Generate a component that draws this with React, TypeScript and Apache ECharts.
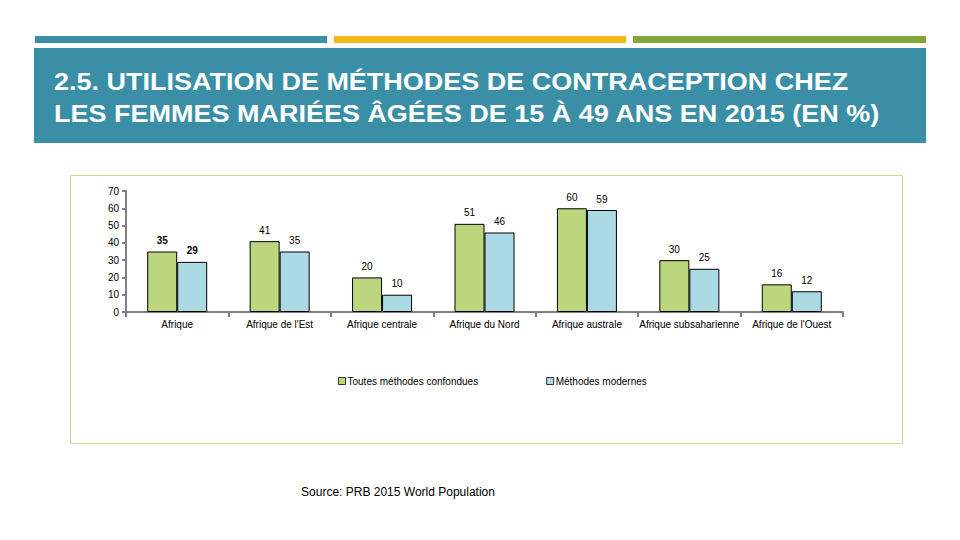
import React, { useEffect, useRef } from "react";
import * as echarts from "echarts";

const categories = [
  "Afrique",
  "Afrique de l'Est",
  "Afrique centrale",
  "Afrique du Nord",
  "Afrique australe",
  "Afrique subsaharienne",
  "Afrique de l'Ouest",
];
const allMethods = [35, 41, 20, 51, 60, 30, 16];
const modernMethods = [29, 35, 10, 46, 59, 25, 12];
const seriesNames = ["Toutes méthodes confondues", "Méthodes modernes"];
const yTicks = { min: 0, max: 70, interval: 10 };
const titleLines = [
  "2.5. UTILISATION DE MÉTHODES DE CONTRACEPTION CHEZ",
  "LES FEMMES MARIÉES ÂGÉES DE 15 À 49 ANS EN 2015 (EN %)",
];
const sourceText = "Source: PRB 2015 World Population";

const GREEN = "#bcd67e";
const BLUE = "#abd9e4";
const FONT = "Liberation Sans";

export default function App() {
  const ref = useRef<HTMLDivElement>(null);
  useEffect(() => {
    if (!ref.current) return;
    const chart = echarts.init(ref.current, undefined, { renderer: "svg" });
    const label = {
      show: true,
      position: "top" as const,
      distance: 6,
      fontFamily: FONT,
      fontSize: 10,
      color: "#000",
    };
    const mkData = (arr: number[]) =>
      arr.map((v, i) =>
        i === 0
          ? { value: v, label: { fontWeight: "bold" as const } }
          : { value: v }
      );
    const titleStyle = (text: string) => ({
      text,
      fill: "#ffffff",
      fontFamily: FONT,
      fontSize: 24,
      fontWeight: "bold",
      verticalAlign: "middle",
    });
    chart.setOption({
      animation: false,
      backgroundColor: "#ffffff",
      textStyle: { fontFamily: FONT },
      graphic: [
        { type: "rect", shape: { x: 35, y: 36, width: 292, height: 7 }, style: { fill: "#3b8ea5" } },
        { type: "rect", shape: { x: 334, y: 36, width: 292, height: 7 }, style: { fill: "#f6b81b" } },
        { type: "rect", shape: { x: 633, y: 36, width: 293, height: 7 }, style: { fill: "#82a53c" } },
        { type: "rect", shape: { x: 34, y: 48, width: 892, height: 95 }, style: { fill: "#3a8fa6" } },
        { type: "text", x: 54, y: 82, scaleX: 1.125, style: titleStyle(titleLines[0]) },
        { type: "text", x: 54, y: 114, scaleX: 1.125, style: titleStyle(titleLines[1]) },
        {
          type: "rect",
          z: -10,
          shape: { x: 70.5, y: 175.5, width: 832, height: 268 },
          style: { fill: "#ffffff", stroke: "#d9d68a", lineWidth: 1 },
        },
        {
          type: "text",
          x: 398,
          y: 492,
          style: {
            text: sourceText,
            fill: "#000",
            fontFamily: FONT,
            fontSize: 12,
            align: "center",
            verticalAlign: "middle",
          },
        },
      ],
      legend: {
        left: 333,
        top: 371,
        itemWidth: 7,
        itemHeight: 7,
        itemGap: 68,
        icon: "rect",
        itemStyle: { borderColor: "#333", borderWidth: 1 },
        textStyle: { fontFamily: FONT, fontSize: 10, color: "#000", padding: [0, 0, 0, -3] },
        data: seriesNames,
      },
      grid: { left: 126, right: 117, top: 191, bottom: 228, containLabel: false },
      xAxis: {
        type: "category",
        data: categories,
        axisLine: { lineStyle: { color: "#808080", width: 2 } },
        axisTick: { show: true, length: 5, lineStyle: { color: "#808080", width: 2 } },
        axisLabel: { fontFamily: FONT, fontSize: 10, color: "#000", margin: 7, interval: 0 },
      },
      yAxis: {
        type: "value",
        min: yTicks.min,
        max: yTicks.max,
        interval: yTicks.interval,
        axisLine: { show: true, lineStyle: { color: "#808080", width: 2 } },
        axisTick: { show: true, length: 4, lineStyle: { color: "#808080", width: 2 } },
        splitLine: { show: false },
        axisLabel: { fontFamily: FONT, fontSize: 10, color: "#000", margin: 7 },
      },
      series: [
        {
          name: seriesNames[0],
          type: "bar",
          data: mkData(allMethods),
          barWidth: 30,
          barGap: "0%",
          itemStyle: { color: GREEN, borderColor: "#000", borderWidth: 1 },
          label,
        },
        {
          name: seriesNames[1],
          type: "bar",
          data: mkData(modernMethods),
          barWidth: 30,
          barGap: "0%",
          itemStyle: { color: BLUE, borderColor: "#000", borderWidth: 1 },
          label,
        },
      ],
    });
    return () => chart.dispose();
  }, []);
  return (
    <div
      ref={ref}
      style={{ position: "fixed", left: 0, top: 0, width: 960, height: 540 }}
    />
  );
}
